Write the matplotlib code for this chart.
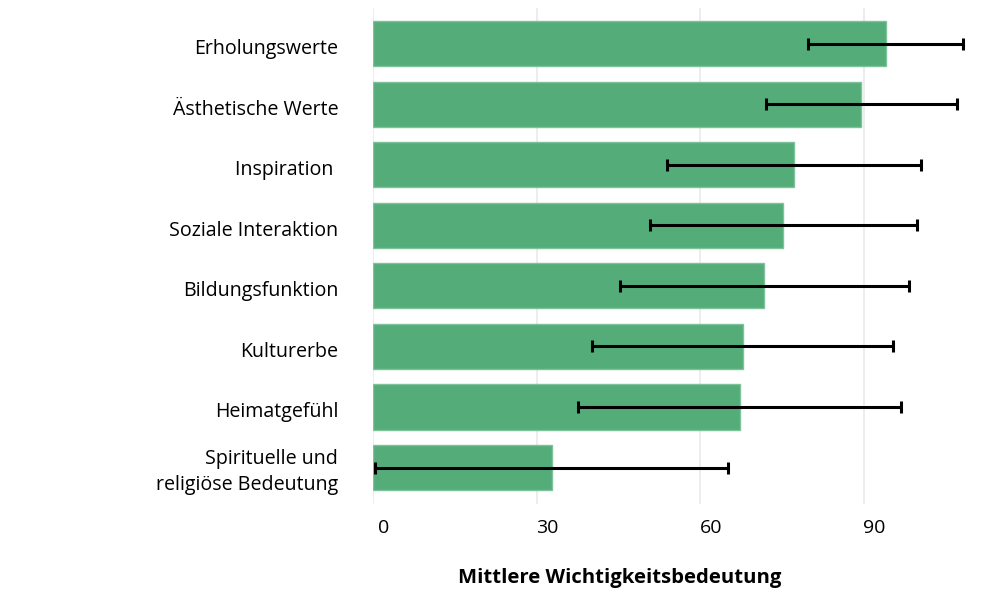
import matplotlib
matplotlib.use("Agg")
import matplotlib.pyplot as plt
import matplotlib.transforms as mtransforms
import numpy as np

categories = ["Erholungswerte", "Ästhetische Werte", "Inspiration ", "Soziale Interaktion",
              "Bildungsfunktion", "Kulturerbe", "Heimatgefühl",
              "Spirituelle und\nreligiöse Bedeutung"]
means = [94.1, 89.6, 77.3, 75.3, 71.8, 67.8, 67.3, 32.8]
sds = [14.2, 17.5, 23.3, 24.5, 26.5, 27.7, 29.6, 32.4]
xticks = [0, 30, 60, 90]
xlabel = "Mittlere Wichtigkeitsbedeutung"

plt.rcParams['font.family'] = ['Open Sans', 'DejaVu Sans']

fig = plt.figure(figsize=(10, 6.03), dpi=100)
ax = fig.add_axes([0.373, 0.1642, 0.5995, 0.8226])

y = np.arange(len(categories))
ax.barh(y, means, height=0.744, color="#54AC79", edgecolor="#7DC29A", linewidth=1.0, zorder=2)
ax.errorbar(means, y, xerr=sds, fmt="none", ecolor="black", elinewidth=2.2,
            capsize=4, capthick=2.2, zorder=3)

ax.set_xlim(0, 110)
ax.set_ylim(7.603, -0.595)
ax.set_xticks(xticks)
ax.set_xticklabels([str(t) for t in xticks], fontsize=14)
ax.set_yticks(y)
ax.set_yticklabels(categories, fontsize=14.1, linespacing=1.38)
ax.tick_params(axis="both", length=0)
ax.tick_params(axis="y", pad=25)
ax.tick_params(axis="x", pad=11)

offset = mtransforms.ScaledTranslation(0.11, 0, fig.dpi_scale_trans)
for lab in ax.get_xticklabels():
    lab.set_transform(lab.get_transform() + offset)
for lab in ax.get_yticklabels():
    dy = 0.012 if "\n" in lab.get_text() else -0.03
    lab.set_transform(lab.get_transform() + mtransforms.ScaledTranslation(0, dy, fig.dpi_scale_trans))

ax.grid(axis="x", color="#ECECEC", linewidth=1.3, zorder=0)
ax.set_axisbelow(True)
for s in ax.spines.values():
    s.set_visible(False)

ax.set_xlabel(xlabel, fontsize=14.6, fontweight="bold")
ax.xaxis.set_label_coords(0.412, -0.13)

fig.savefig("out.png", dpi=100)
